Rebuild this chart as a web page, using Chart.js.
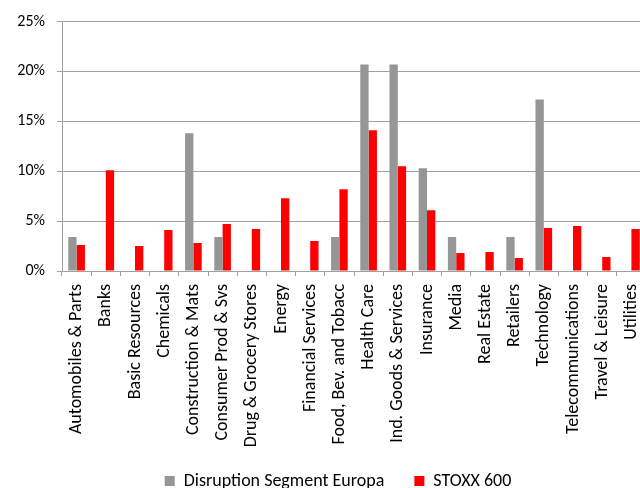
<!DOCTYPE html>
<html>
<head>
<meta charset="utf-8">
<script src="https://cdn.jsdelivr.net/npm/chart.js@4"></script>
<style>
  html, body { margin: 0; padding: 0; background: #fff; overflow: hidden; }
  #wrap { width: 640px; height: 488px; overflow: hidden; position: relative; }
  #box { width: 676px; height: 514px; position: absolute; left: 0; top: 0; }
</style>
</head>
<body>
<div id="wrap"><div id="box"><canvas id="sectorChart"></canvas></div></div>
<script>
// Sector weights, in percent
const sectors = [
    'Automobiles & Parts', 'Banks', 'Basic Resources', 'Chemicals', 'Construction & Mats',
    'Consumer Prod & Svs', 'Drug & Grocery Stores', 'Energy', 'Financial Services',
    'Food, Bev. and Tobacc', 'Health Care', 'Ind. Goods & Services', 'Insurance', 'Media',
    'Real Estate', 'Retailers', 'Technology', 'Telecommunications', 'Travel & Leisure', 'Utilities'
]
const disruptionEuropa = [3.4, 0, 0, 0, 13.8, 3.4, 0, 0, 0, 3.4, 20.7, 20.7, 10.3, 3.4, 0, 3.4, 17.2, 0, 0, 0]
const stoxx600 = [2.6, 10.1, 2.5, 4.1, 2.8, 4.7, 4.2, 7.3, 3.0, 8.2, 14.1, 10.5, 6.1, 1.8, 1.9, 1.3, 4.3, 4.5, 1.4, 4.2]
const yTicks = [0, 5, 10, 15, 20, 25]

const font = "Carlito, Lato, sans-serif"
Chart.defaults.font.family = font
Chart.defaults.color = '#000'

// the legend sits a little right of the plot centre in the original, and overlaps the label area
const legendShift = {
    id: 'legendShift',
    afterLayout(chart) {
        chart.legend.left += 15
        chart.legend.right += 15
        chart.legend.top -= 14
        chart.legend.bottom -= 14
    }
}

var ctx = document.getElementById('sectorChart')
var sectorChart = new Chart(ctx, {
    type: 'bar',
    data: {
        labels: sectors,
        datasets: [{
            label: 'Disruption Segment Europa',
            data: disruptionEuropa,
            backgroundColor: '#969696',
            categoryPercentage: 0.57,
            barPercentage: 1
        }, {
            label: 'STOXX 600',
            data: stoxx600,
            backgroundColor: '#ff0000',
            categoryPercentage: 0.57,
            barPercentage: 1
        }]
    },
    plugins: [legendShift],
    options: {
        responsive: true,
        maintainAspectRatio: false,
        animation: false,
        layout: { padding: { top: 10, right: 30, left: 0, bottom: 0 } },
        plugins: {
            tooltip: { enabled: false },
            legend: {
                position: 'bottom',
                labels: {
                    font: { size: 18 },
                    boxWidth: 10,
                    boxHeight: 10,
                    padding: 30
                }
            }
        },
        scales: {
            x: {
                grid: { drawOnChartArea: false, offset: true, color: '#a0a0a0', tickLength: 5 },
                border: { color: '#a0a0a0' },
                ticks: {
                    autoSkip: false,
                    minRotation: 90,
                    maxRotation: 90,
                    padding: 8,
                    font: { size: 18 }
                },
                afterFit: (scale) => { scale.height = 185 }
            },
            y: {
                min: 0,
                max: 25,
                afterBuildTicks: (scale) => { scale.ticks = yTicks.map(v => ({ value: v })) },
                afterFit: (scale) => { scale.width = 62 },
                grid: { color: '#a0a0a0', tickLength: 5 },
                border: { color: '#a0a0a0' },
                ticks: {
                    padding: 12,
                    font: { size: 16 },
                    callback: (v) => v + '%'
                }
            }
        }
    }
})
</script>
</body>
</html>
